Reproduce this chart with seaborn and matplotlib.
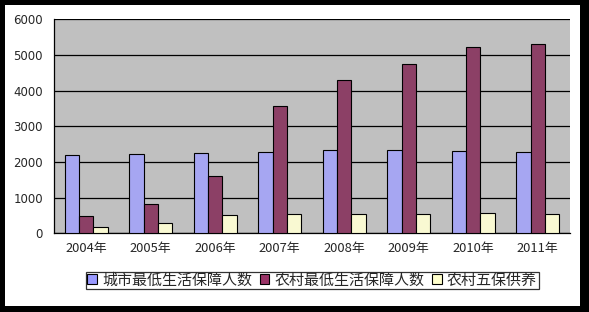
import matplotlib
matplotlib.use("Agg")
import matplotlib.pyplot as plt
import seaborn as sns
import pandas as pd
from matplotlib.patches import Rectangle

years = ["2004年", "2005年", "2006年", "2007年", "2008年", "2009年", "2010年", "2011年"]
series_names = ["城市最低生活保障人数", "农村最低生活保障人数", "农村五保供养"]
city = [2205, 2234, 2240, 2272, 2335, 2346, 2311, 2277]
rural = [488, 825, 1593, 3566, 4306, 4760, 5214, 5306]
wubao = [190, 300, 503, 531, 549, 553, 556, 551]
colors = ["#9999FF", "#993366", "#FFFFCC"]
yticks = [0, 1000, 2000, 3000, 4000, 5000, 6000]

df = pd.DataFrame({
    "year": years * 3,
    "series": [series_names[0]] * 8 + [series_names[1]] * 8 + [series_names[2]] * 8,
    "value": city + rural + wubao,
})

sns.set_theme(style="white")
plt.rcParams["font.family"] = ["Noto Sans CJK SC", "DejaVu Sans"]

fig = plt.figure(figsize=(5.89, 3.12), dpi=100)
fig.patch.set_facecolor("black")
fig.add_artist(Rectangle((5 / 589, 6 / 312), 575 / 589, 301 / 312,
                         transform=fig.transFigure, facecolor="white",
                         edgecolor="none", zorder=-10))

ax = fig.add_axes([54 / 589, (312 - 233.3) / 312, 516 / 589, 214 / 312])
ax.set_facecolor("#C0C0C0")
sns.barplot(data=df, x="year", y="value", hue="series", palette=colors,
            order=years, hue_order=series_names, width=0.667,
            edgecolor="black", linewidth=0.8, ax=ax, legend=False, zorder=3)

ax.set_ylim(0, 6000)
ax.set_xlim(-0.5, 7.5)
ax.set_yticks(yticks)
ax.set_yticklabels([str(v) for v in yticks], fontsize=8.5, family=["DejaVu Sans"])
ax.yaxis.grid(True, color="black", linewidth=0.9, zorder=1)
ax.set_axisbelow(True)
ax.set_xlabel("")
ax.set_ylabel("")
ax.tick_params(axis="x", length=0, pad=6)
ax.tick_params(axis="y", length=0, pad=8)
ax.set_xticks([i + 0.5 for i in range(7)], minor=True)
ax.tick_params(axis="x", which="minor", direction="in", length=3, color="black", width=0.8)
for lab in ax.get_xticklabels():
    lab.set_fontsize(9.3)

for side in ["top", "right"]:
    ax.spines[side].set_visible(False)
ax.spines["left"].set_color("black")
ax.spines["bottom"].set_color("black")
ax.spines["left"].set_linewidth(0.9)
ax.spines["bottom"].set_linewidth(0.9)

handles = [Rectangle((0, 0), 1, 1, facecolor=c, edgecolor="black", linewidth=0.8) for c in colors]
leg = fig.legend(handles, series_names, loc="center", bbox_to_anchor=(312 / 589, (312 - 280.5) / 312),
                 ncol=3, frameon=True, fancybox=False, fontsize=10.8,
                 handlelength=0.65, handleheight=0.65, handletextpad=0.35,
                 columnspacing=0.5, borderpad=0.1, borderaxespad=0)
leg.get_frame().set_edgecolor("black")
leg.get_frame().set_linewidth(0.9)
leg.get_frame().set_facecolor("white")

fig.savefig("out.png", dpi=100, facecolor=fig.get_facecolor())
